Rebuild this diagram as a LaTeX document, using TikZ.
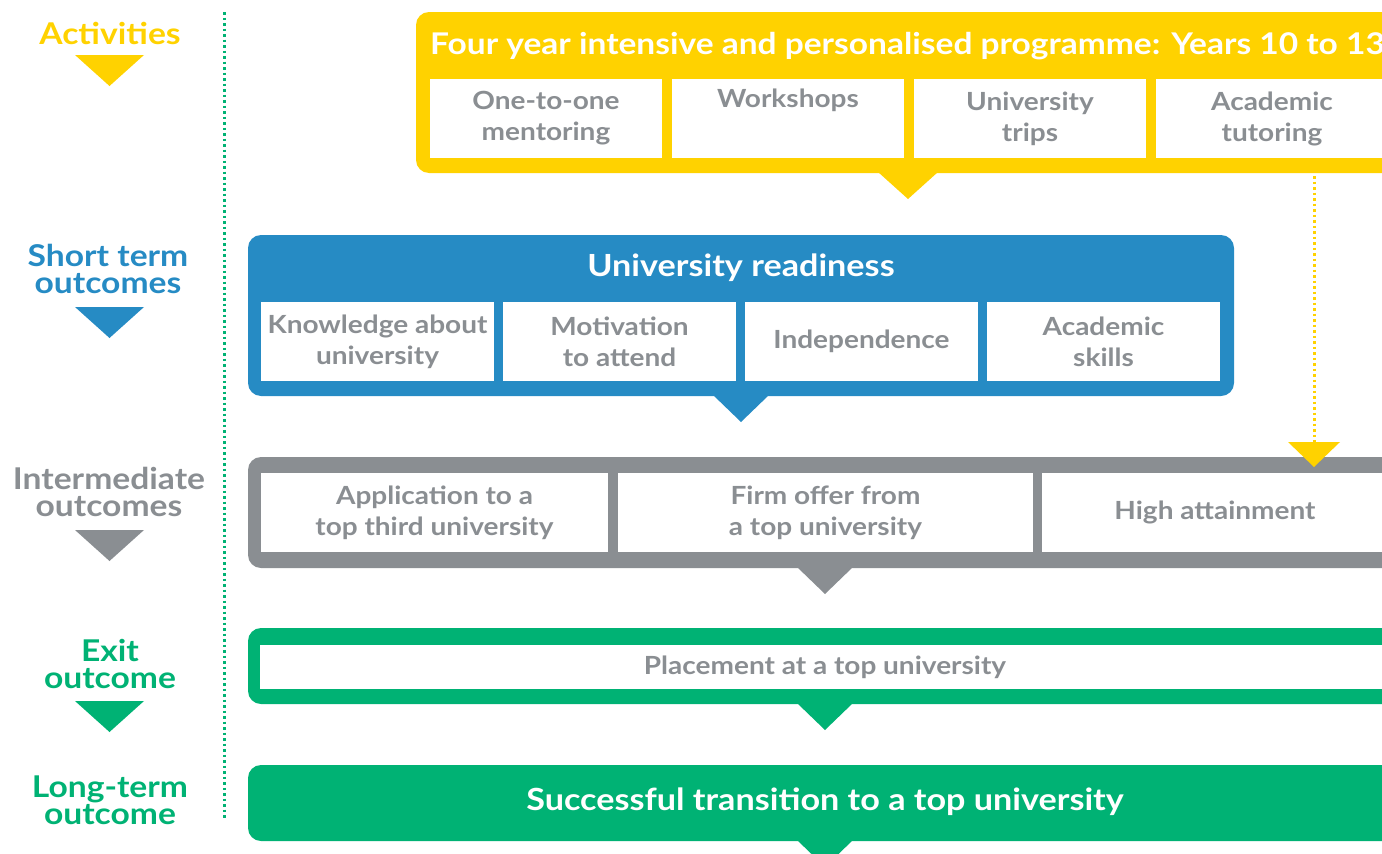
\documentclass[tikz,border=0pt]{standalone}
\usepackage{fontspec}
\setmainfont{Lato}[FakeStretch=1.12]
\usetikzlibrary{calc}
\definecolor{cyel}{HTML}{FFD200}
\definecolor{cblu}{HTML}{268BC4}
\definecolor{cgry}{HTML}{8A8E92}
\definecolor{cgrn}{HTML}{00B274}
\tikzset{
  frame/.style={rectangle, rounded corners=13pt, anchor=north west, inner sep=0pt, outer sep=0pt},
  cell/.style={rectangle, fill=white, anchor=north west, inner sep=0pt, outer sep=0pt, text=cgry, align=center, font=\fontsize{25}{31}\selectfont\bfseries},
  title/.style={text=white, inner sep=0pt, font=\fontsize{30.5}{36}\selectfont\bfseries},
  side/.style={inner sep=0pt, align=center, font=\fontsize{30}{27}\selectfont\bfseries},
  dotline/.style={line width=3pt, dash pattern=on 2.5pt off 3pt},
}
\begin{document}
\begin{tikzpicture}[x=1pt,y=-1pt]
\useasboundingbox (0,0) rectangle (1382,854);
\clip (0,0) rectangle (1382,854);

% left column
\node[side, text=cyel] (l1) at (110,33) {Activities};
\fill[cyel] (75,55) -- (144,55) -- (109.5,86) -- cycle;
\node[side, text=cblu] (l2) at (108,269) {Short term\\outcomes};
\fill[cblu] (75,307) -- (144,307) -- (109.5,338) -- cycle;
\node[side, text=cgry] (l3) at (109,492) {Intermediate\\outcomes};
\fill[cgry] (75,530) -- (144,530) -- (109.5,561) -- cycle;
\node[side, text=cgrn] (l4) at (110,664) {Exit\\outcome};
\fill[cgrn] (75,701) -- (144,701) -- (109.5,732) -- cycle;
\node[side, text=cgrn] (l5) at (110,800) {Long-term\\outcome};

\coordinate (dtop) at (224,12);
\coordinate (dbot) at (224,818);
\draw[dotline, cgrn] (dtop) -- (dbot);

% activities
\node[frame, fill=cyel, minimum width=984, minimum height=161] (act) at (416,12) {};
\fill[cyel] ([xshift=-30pt,yshift=1pt]act.south) -- ([xshift=30pt,yshift=1pt]act.south) -- ([yshift=-26pt]act.south) -- cycle;
\node[title, anchor=west, font=\fontsize{29.9}{36}\selectfont\bfseries] (actt) at (430,46) {Four year intensive and personalised programme: Years 10 to 13};
\node[cell, minimum width=232, minimum height=79] (a1) at (430,79) {One-to-one\\mentoring};
\node[cell, minimum width=232, minimum height=79] (a2) at (672,79) {Workshops\\\strut};
\node[cell, minimum width=232, minimum height=79] (a3) at (914,79) {University\\trips};
\node[cell, minimum width=232, minimum height=79] (a4) at (1156,79) {Academic\\tutoring};

% short term
\node[frame, fill=cblu, minimum width=986, minimum height=161] (st) at (248,235) {};
\fill[cblu] ([xshift=-28pt,yshift=1pt]st.south) -- ([xshift=28pt,yshift=1pt]st.south) -- ([yshift=-26pt]st.south) -- cycle;
\node[title] (stt) at (741,268) {University readiness};
\node[cell, minimum width=233, minimum height=79] (b1) at (261,302) {Knowledge about\\university};
\node[cell, minimum width=233, minimum height=79] (b2) at (503,302) {Motivation\\to attend};
\node[cell, minimum width=233, minimum height=79] (b3) at (745,302) {Independence};
\node[cell, minimum width=233, minimum height=79] (b4) at (987,302) {Academic\\skills};

% intermediate
\node[frame, fill=cgry, minimum width=1154, minimum height=111] (im) at (248,457) {};
\fill[cgry] ([xshift=-28pt,yshift=1pt]im.south) -- ([xshift=28pt,yshift=1pt]im.south) -- ([yshift=-26pt]im.south) -- cycle;
\node[cell, minimum width=347, minimum height=79] (c1) at (261,473) {Application to a\\top third university};
\node[cell, minimum width=415, minimum height=79] (c2) at (618,473) {Firm offer from\\a top university};
\node[cell, minimum width=346, minimum height=79] (c3) at (1042,473) {High attainment};

% yellow dotted connector
\coordinate (ys) at (1314,176);
\coordinate (ye) at (1314,443);
\draw[dotline, cyel] (ys) -- (ye);
\fill[cyel] (1288,442) -- (1340,442) -- (1314,467) -- cycle;

% exit
\node[frame, fill=cgrn, minimum width=1154, minimum height=76] (ex) at (248,628) {};
\fill[cgrn] ([xshift=-28pt,yshift=1pt]ex.south) -- ([xshift=28pt,yshift=1pt]ex.south) -- ([yshift=-26pt]ex.south) -- cycle;
\node[cell, minimum width=1130, minimum height=44] (d1) at (260,645) {Placement at a top university};

% long term
\node[frame, fill=cgrn, minimum width=1154, minimum height=76] (lt) at (248,765) {};
\fill[cgrn] ([xshift=-28pt,yshift=1pt]lt.south) -- ([xshift=28pt,yshift=1pt]lt.south) -- ([yshift=-26pt]lt.south) -- cycle;
\node[title] (ltt) at (825,802) {Successful transition to a top university};
\end{tikzpicture}
\end{document}
